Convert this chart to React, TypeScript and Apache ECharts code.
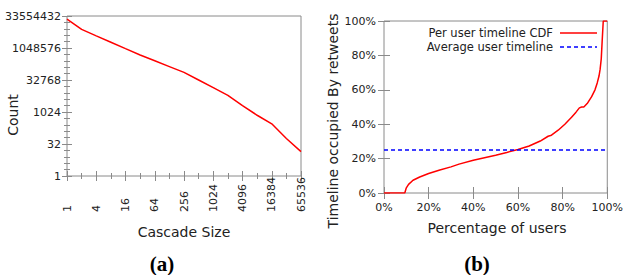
import React, { useEffect, useRef } from "react";
import * as echarts from "echarts";

// (a) cascade size distribution
const cascadeSizes = [1, 2, 4, 8, 16, 32, 64, 128, 256, 512, 1024, 2048, 4096, 8192, 16384, 32768, 65536];
const cascadeCounts = [23700000, 7830000, 3900000, 1960000, 978000, 489000, 262000, 140000, 75000, 32800, 14300, 6200, 2050, 720, 284, 58, 14];
// axis extents as powers of two (exponents)
const sizeExpRange = [0, 16];
const countExpRange = [0, 25];

// (b) per user timeline CDF (percent of users, percent of timeline)
const usersPct = [0, 9.3, 10, 11, 13, 16, 20, 25, 30, 33.6, 40, 45, 50, 55, 60, 65, 70, 73.5, 75, 78, 81, 84, 86, 87.5, 88.5, 89.5, 91, 93, 94.5, 95.5, 96.3, 96.8, 97.3, 97.7, 98.2, 100];
const timelinePct = [0, 0, 3, 5, 7.4, 9.3, 11.3, 13.4, 15.2, 16.8, 19, 20.5, 22, 23.6, 25.3, 27.3, 30.2, 33, 33.6, 36.5, 40, 44, 47, 49.5, 50, 50, 52, 56, 60, 64, 68, 72, 78, 88, 100, 100];
const averageTimeline = 25;
const legendNames = ["Per user timeline CDF", "Average user timeline"];

const xPctTicks = [0, 20, 40, 60, 80, 100];

const FONT = "DejaVu Sans";
const FRAME = "#8a8a8a";
const TXT = "#222";

export default function App() {
  const ref = useRef<HTMLDivElement>(null);
  useEffect(() => {
    if (!ref.current) return;
    const chart = echarts.init(ref.current, undefined, { renderer: "svg" });
    const tickStyle = { show: true, inside: true, length: 5, lineStyle: { color: FRAME, width: 1 } };
    const minorStyle = (n: number) => ({ show: true, splitNumber: n, length: 3, lineStyle: { color: FRAME, width: 1 } });
    const lbl = { fontSize: 11, fontFamily: FONT, color: TXT };
    const pow2 = (v: number) => String(Math.round(Math.pow(2, v)));
    const expX = (pos: "bottom" | "top", showLabel: boolean) => ({
      gridIndex: 0,
      type: "value" as const,
      min: sizeExpRange[0],
      max: sizeExpRange[1],
      interval: 2,
      position: pos,
      axisLine: { show: false },
      axisTick: tickStyle,
      minorTick: minorStyle(2),
      splitLine: { show: false },
      axisLabel: showLabel
        ? { ...lbl, rotate: 90, align: "left", verticalAlign: "middle", margin: 36, formatter: pow2 }
        : { show: false },
    });
    const expY = (pos: "left" | "right", showLabel: boolean) => ({
      gridIndex: 0,
      type: "value" as const,
      min: countExpRange[0],
      max: countExpRange[1],
      interval: 5,
      position: pos,
      axisLine: { show: false },
      axisTick: tickStyle,
      minorTick: minorStyle(5),
      splitLine: { show: false },
      axisLabel: showLabel ? { ...lbl, margin: 6, formatter: pow2 } : { show: false },
    });
    const pctAxis = (pos: string, showLabel: boolean, margin: number) => ({
      gridIndex: 1,
      type: "value" as const,
      min: 0,
      max: 100,
      interval: 20,
      position: pos,
      axisLine: { show: false },
      axisTick: { ...tickStyle, length: 6 },
      splitLine: { show: false },
      axisLabel: showLabel ? { ...lbl, margin, formatter: "{value}%" } : { show: false },
    });
    const legendTextX = 553;
    const legendLineX = [560, 597];
    const legendY = [33, 47];
    chart.setOption({
      animation: false,
      grid: [
        { left: 67, top: 16, width: 234, height: 160, show: true, borderColor: FRAME, borderWidth: 1, backgroundColor: "transparent" },
        { left: 384, top: 21, width: 226, height: 172, show: true, borderColor: FRAME, borderWidth: 1, backgroundColor: "transparent" },
      ],
      xAxis: [expX("bottom", true), expX("top", false), pctAxis("bottom", true, 9), pctAxis("top", false, 9)],
      yAxis: [expY("left", true), expY("right", false), pctAxis("left", true, 8), pctAxis("right", false, 8)],
      series: [
        {
          type: "line",
          name: "Cascade",
          xAxisIndex: 0,
          yAxisIndex: 0,
          showSymbol: false,
          symbol: "none",
          lineStyle: { color: "#ff0000", width: 1.5 },
          data: cascadeSizes.map((s, i) => [Math.log2(s), Math.log2(cascadeCounts[i])]),
        },
        {
          type: "line",
          name: legendNames[0],
          xAxisIndex: 2,
          yAxisIndex: 2,
          showSymbol: false,
          symbol: "none",
          lineStyle: { color: "#ff0000", width: 1.5 },
          data: usersPct.map((u, i) => [u, timelinePct[i]]),
        },
        {
          type: "line",
          name: legendNames[1],
          xAxisIndex: 2,
          yAxisIndex: 2,
          showSymbol: false,
          symbol: "none",
          lineStyle: { color: "#0000ff", width: 1.3, type: [4, 3] },
          data: [
            [xPctTicks[0], averageTimeline],
            [xPctTicks[xPctTicks.length - 1], averageTimeline],
          ],
        },
      ],
      graphic: [
        { type: "text", x: 13, y: 115, rotation: Math.PI / 2, style: { text: "Count", font: `14px "${FONT}"`, fill: TXT, align: "center", verticalAlign: "middle" } },
        { type: "text", x: 184, y: 232, style: { text: "Cascade Size", font: `14px "${FONT}"`, fill: TXT, align: "center", verticalAlign: "middle" } },
        { type: "text", x: 333, y: 121, rotation: Math.PI / 2, style: { text: "Timeline occupied By retweets", font: `14px "${FONT}"`, fill: TXT, align: "center", verticalAlign: "middle" } },
        { type: "text", x: 497, y: 228, style: { text: "Percentage of users", font: `14px "${FONT}"`, fill: TXT, align: "center", verticalAlign: "middle" } },
        { type: "text", x: legendTextX, y: legendY[0], style: { text: legendNames[0], font: `11.5px "${FONT}"`, fill: TXT, align: "right", verticalAlign: "middle" } },
        { type: "text", x: legendTextX, y: legendY[1], style: { text: legendNames[1], font: `11.5px "${FONT}"`, fill: TXT, align: "right", verticalAlign: "middle" } },
        { type: "line", shape: { x1: legendLineX[0], y1: legendY[0], x2: legendLineX[1], y2: legendY[0] }, style: { stroke: "#ff0000", lineWidth: 1.5 } },
        { type: "line", shape: { x1: legendLineX[0], y1: legendY[1], x2: legendLineX[1], y2: legendY[1] }, style: { stroke: "#0000ff", lineWidth: 1.3, lineDash: [4, 3] } },
        { type: "text", x: 162, y: 264, style: { text: "(a)", font: `bold 21px "Liberation Serif"`, fill: "#000", align: "center", verticalAlign: "middle" } },
        { type: "text", x: 477, y: 264, style: { text: "(b)", font: `bold 21px "Liberation Serif"`, fill: "#000", align: "center", verticalAlign: "middle" } },
      ],
    });
    return () => chart.dispose();
  }, []);
  return <div ref={ref} style={{ position: "absolute", left: 0, top: 0, width: 626, height: 275 }} />;
}
